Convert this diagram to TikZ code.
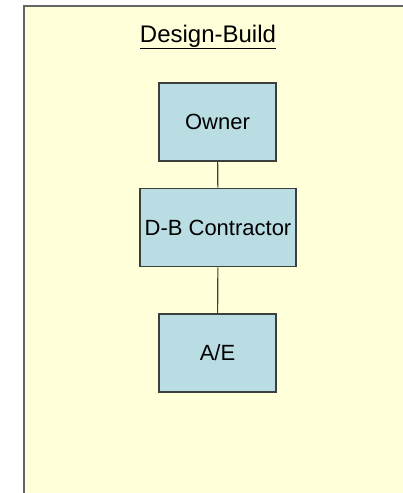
\documentclass[tikz,border=0pt]{standalone}
\usepackage{fontspec}
\setmainfont{Liberation Sans}
\definecolor{paper}{HTML}{FFFFDA}
\definecolor{boxblue}{HTML}{B9DDE3}
\definecolor{edge}{HTML}{3C403C}
\tikzset{
  party/.style={draw=edge, line width=1.6pt, fill=boxblue, minimum height=78pt, inner sep=0pt, font=\fontsize{22}{26}\selectfont},
  link/.style={edge, line width=1.1pt}
}

\begin{document}
\begin{tikzpicture}[x=1pt, y=-1pt]
  \useasboundingbox (0,0) rectangle (402,493);
  \draw[draw=edge!80, line width=1.6pt, fill=paper] (24,6) rectangle (410,500);
  \node (title) at (208,37) {\fontsize{24}{28}\selectfont\underline{Design-Build}};
  \node[party, minimum width=117pt] (owner) at (217.5,122) {Owner};
  \node[party, minimum width=156pt] (dbc) at (218,227.5) {D-B Contractor};
  \node[party, minimum width=117pt] (ae) at (217.5,353) {A/E};
  \draw[link] (owner) -- (dbc);
  \draw[link] (dbc) -- (ae);
\end{tikzpicture}
\end{document}
